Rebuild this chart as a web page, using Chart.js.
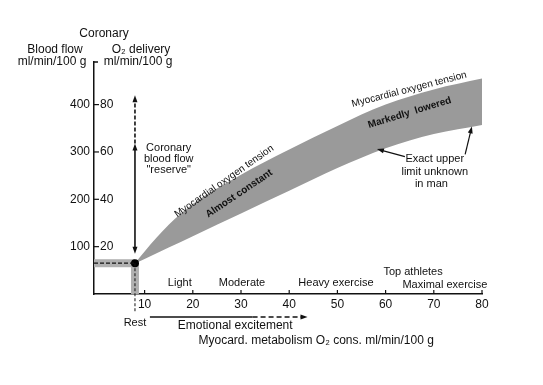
<!DOCTYPE html>
<html>
<head>
  <title>Coronary blood flow</title>
<script src="https://cdn.jsdelivr.net/npm/chart.js"></script>
<style>
  body { margin: 0; background: #fff; }
</style>
</head>
<body>
<canvas id="myChart" width="543" height="385"></canvas>
<script>
// myocardial O2 consumption (x) vs coronary blood flow (y)
const bandX     = [8, 10, 15, 20, 30, 40, 50, 60, 70, 80];
const flowUpper = [65, 90, 146, 190, 252, 305, 355, 400, 432, 455];
const flowLower = [65, 74, 98, 122, 170, 218, 266, 308, 338, 357];

const restLoad = 8;
const restFlow = 65;
const reserveFlow = 318;   // solid part of the "reserve" arrow
const reserveMax = 420;    // dashed part

const flowTicks = [100, 200, 300, 400];
const o2Ticks   = [20, 40, 60, 80];
const loadTicks = [10, 20, 30, 40, 50, 60, 70, 80];

const FONT = '"Liberation Sans", Arial, sans-serif';
const INK = '#111';

function txt(ctx, s, x, y, size, opts) {
  opts = opts || {};
  ctx.save();
  ctx.translate(x, y);
  if (opts.rot) ctx.rotate(opts.rot * Math.PI / 180);
  ctx.font = (opts.bold ? 'bold ' : '') + size + 'px ' + FONT;
  ctx.textAlign = opts.align || 'center';
  ctx.textBaseline = 'middle';
  ctx.fillStyle = INK;
  ctx.fillText(s, 0, 0);
  ctx.restore();
}

function line(ctx, x1, y1, x2, y2, w, dash) {
  ctx.save();
  ctx.strokeStyle = INK;
  ctx.lineWidth = w || 1;
  ctx.setLineDash(dash || []);
  ctx.beginPath();
  ctx.moveTo(x1, y1);
  ctx.lineTo(x2, y2);
  ctx.stroke();
  ctx.restore();
}

function head(ctx, x, y, ang, len, half) {
  len = len || 7; half = half || 2.5;
  ctx.save();
  ctx.translate(x, y);
  ctx.rotate(ang);
  ctx.fillStyle = INK;
  ctx.beginPath();
  ctx.moveTo(0, 0);
  ctx.lineTo(-len, -half);
  ctx.lineTo(-len, half);
  ctx.closePath();
  ctx.fill();
  ctx.restore();
}

function arrow(ctx, x1, y1, x2, y2, w, dash) {
  const ang = Math.atan2(y2 - y1, x2 - x1);
  line(ctx, x1, y1, x2 - Math.cos(ang) * 4, y2 - Math.sin(ang) * 4, w, dash);
  head(ctx, x2, y2, ang);
}

const extras = {
  id: 'extras',
  beforeDatasetsDraw(chart) {
    const ctx = chart.ctx, ca = chart.chartArea;
    const X = v => chart.scales.x.getPixelForValue(v);
    const Y = v => chart.scales.y.getPixelForValue(v);
    const rx = X(restLoad), ry = Y(restFlow);
    ctx.save();
    ctx.fillStyle = '#b0b0b0';
    ctx.fillRect(ca.left, ry - 4, rx - ca.left, 8);
    ctx.fillRect(rx - 4, ry, 8, ca.bottom - ry);
    ctx.restore();
  },
  afterDraw(chart) {
    const ctx = chart.ctx, ca = chart.chartArea;
    const X = v => chart.scales.x.getPixelForValue(v);
    const Y = v => chart.scales.y.getPixelForValue(v);
    const rx = X(restLoad), ry = Y(restFlow);

    // axis details: top bracket, inner ticks, O2 labels
    line(ctx, ca.left, ca.top, ca.left + 4, ca.top, 1.5);
    flowTicks.forEach((v, i) => {
      line(ctx, ca.left, Y(v), ca.left + 5, Y(v), 1.2);
      txt(ctx, String(o2Ticks[i]), ca.left + 6, Y(v), 12, {align: 'left'});
    });
    loadTicks.forEach(v => line(ctx, X(v), ca.bottom, X(v), ca.bottom - 4, 1.2));

    // headers
    txt(ctx, 'Coronary', ca.left + 10, ca.top - 28, 12);
    txt(ctx, 'Blood flow', ca.left - 39, ca.top - 12, 12);
    txt(ctx, 'O\u2082 delivery', ca.left + 47, ca.top - 12, 12);
    txt(ctx, 'ml/min/100 g', ca.left - 42, ca.top, 12);
    txt(ctx, 'ml/min/100 g', ca.left + 44, ca.top, 12);

    // rest dashed lines
    line(ctx, ca.left, ry, rx, ry, 1.2, [4, 2]);
    line(ctx, rx, ry, rx, ca.bottom + 18, 1, [3, 2]);
    txt(ctx, 'Rest', rx, ca.bottom + 29, 11);

    // coronary flow reserve arrow
    const down = Y(restFlow + 20), up = Y(reserveFlow), top = Y(reserveMax);
    line(ctx, rx, down - 4, rx, up + 4, 1.6);
    head(ctx, rx, down, Math.PI / 2);
    head(ctx, rx, up, -Math.PI / 2);
    line(ctx, rx, up, rx, top + 5, 1.6, [4, 2]);
    head(ctx, rx, top, -Math.PI / 2);
    txt(ctx, 'Coronary', X(15), Y(reserveFlow - 10), 11);
    txt(ctx, 'blood flow', X(15), Y(reserveFlow - 33), 11);
    txt(ctx, '"reserve"', X(15), Y(reserveFlow - 56), 11);

    // band labels
    txt(ctx, 'Myocardial oxygen tension', X(26.5), Y(238), 10, {rot: -35});
    txt(ctx, 'Almost constant', X(29.6), Y(212), 10, {rot: -34, bold: true});
    txt(ctx, 'Myocardial oxygen tension', X(64.9), Y(432), 10, {rot: -14.5});
    txt(ctx, 'Markedly  lowered', X(65), Y(383), 10, {rot: -17, bold: true});

    // exact upper limit
    txt(ctx, 'Exact upper', X(70.2), Y(285), 11);
    txt(ctx, 'limit unknown', X(70.2), Y(258), 11);
    txt(ctx, 'in man', X(69.5), Y(232), 11);
    arrow(ctx, X(64), Y(290), X(58.2), Y(306), 1.2);
    arrow(ctx, X(76.5), Y(295), X(77.9), Y(354), 1.2);

    // workload labels
    txt(ctx, 'Light', X(17.3), ca.bottom - 11, 11);
    txt(ctx, 'Moderate', X(30.2), ca.bottom - 11, 11);
    txt(ctx, 'Heavy exercise', X(49.7), ca.bottom - 11, 11);
    txt(ctx, 'Top athletes', X(65.7), ca.bottom - 22, 11);
    txt(ctx, 'Maximal exercise', X(72.3), ca.bottom - 9, 11);

    // emotional excitement arrow
    const ey = ca.bottom + 23;
    line(ctx, X(11.1), ey, X(32.4), ey, 1.5);
    line(ctx, X(32.4), ey, X(43), ey, 1.5, [5, 3]);
    head(ctx, X(43.8), ey, 0);
    txt(ctx, 'Emotional excitement', X(28.8), ca.bottom + 32, 12);

    txt(ctx, 'Myocard. metabolism O\u2082 cons. ml/min/100 g', X(45.6), ca.bottom + 47, 12);
  }
};

const pts = arr => bandX.map((x, i) => ({x: x, y: arr[i]}));

const config = {
  type: 'line',
  data: {
    datasets: [
      {
        type: 'scatter',
        data: [{x: restLoad, y: restFlow}],
        pointRadius: 4,
        pointBackgroundColor: '#000',
        pointBorderWidth: 0,
        order: 0
      },
      {
        data: pts(flowUpper),
        borderWidth: 0,
        pointRadius: 0,
        fill: '+1',
        backgroundColor: '#9a9a9a',
        cubicInterpolationMode: 'monotone',
        order: 1
      },
      {
        data: pts(flowLower),
        borderWidth: 0,
        pointRadius: 0,
        fill: false,
        cubicInterpolationMode: 'monotone',
        order: 1
      }
    ]
  },
  options: {
    responsive: false,
    animation: false,
    events: [],
    layout: { padding: { left: 0, right: 61, top: 62, bottom: 0 } },
    plugins: { legend: { display: false }, tooltip: { enabled: false } },
    scales: {
      x: {
        type: 'linear',
        min: -0.5,
        max: 80,
        afterBuildTicks: axis => { axis.ticks = loadTicks.map(v => ({value: v})); },
        afterFit: axis => { axis.height = 91; },
        grid: { drawOnChartArea: false, drawTicks: false },
        border: { display: true, color: '#111', width: 1.5 },
        ticks: { color: INK, padding: 3, maxRotation: 0, font: { family: FONT, size: 12 } }
      },
      y: {
        type: 'linear',
        min: 0,
        max: 490,
        afterBuildTicks: axis => { axis.ticks = flowTicks.map(v => ({value: v})); },
        afterFit: axis => { axis.width = 94; },
        grid: { drawOnChartArea: false, drawTicks: false },
        border: { display: true, color: '#111', width: 1.5 },
        ticks: { color: INK, padding: 4, font: { family: FONT, size: 12 } }
      }
    }
  },
  plugins: [extras]
};

const myChart = new Chart(document.getElementById('myChart'), config);
</script>
</body>
</html>
